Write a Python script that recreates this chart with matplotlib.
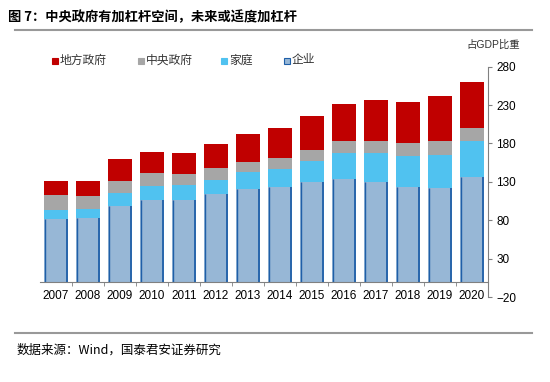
import numpy as np
import matplotlib.pyplot as plt
from matplotlib.patches import Rectangle

plt.rcParams['font.family'] = ['Liberation Sans', 'Noto Sans CJK SC', 'DejaVu Sans']

# 数据（占GDP比重，%）
years = ['2007', '2008', '2009', '2010', '2011', '2012', '2013',
         '2014', '2015', '2016', '2017', '2018', '2019', '2020']
corp = [81.5, 83.0, 98.4, 106.3, 106.7, 114.5, 120.6,
        122.8, 129.3, 133.6, 129.3, 122.8, 121.5, 136.6]
household = [11.7, 11.5, 16.6, 18.6, 18.7, 18.2, 21.7,
             23.8, 27.7, 33.4, 37.7, 41.2, 43.8, 46.1]
central = [19.6, 17.5, 16.4, 16.5, 14.6, 15.3, 13.4,
           14.7, 14.7, 15.7, 15.7, 16.0, 17.4, 16.9]
local = [18.2, 19.0, 28.2, 27.2, 27.4, 31.0, 36.3,
         38.7, 44.3, 48.5, 53.3, 53.9, 59.0, 60.4]
yticks = [-20, 30, 80, 130, 180, 230, 280]

c_local = '#C00000'
c_central = '#A6A6A6'
c_house = '#50C2F0'
c_corp = '#97B7D6'
c_edge = '#1F5FA8'

fig = plt.figure(figsize=(5.5, 3.82), dpi=100)
ax = fig.add_axes([40 / 550, 1 - 297 / 382, 448 / 550, (297 - 66.7) / 382])

x = np.arange(len(years))
w = 0.72
corp = np.array(corp)
household = np.array(household)
central = np.array(central)
local = np.array(local)

ax.bar(x, corp, w, color=c_corp, linewidth=0, zorder=2)
# 企业柱左右两侧深蓝描边
ax.vlines(x - w / 2 + 0.02, 0, corp, color=c_edge, lw=1.0, zorder=3)
ax.vlines(x + w / 2 - 0.02, 0, corp, color=c_edge, lw=1.3, zorder=3)
ax.bar(x, household, w, bottom=corp, color=c_house, linewidth=0, zorder=2)
ax.bar(x, central, w, bottom=corp + household, color=c_central, linewidth=0, zorder=2)
ax.bar(x, local, w, bottom=corp + household + central, color=c_local, linewidth=0, zorder=2)

ax.set_xlim(-0.5, len(years) - 0.5)
ax.set_ylim(-20, 280)

# 坐标轴
for s in ['top', 'left']:
    ax.spines[s].set_visible(False)
ax.spines['bottom'].set_position(('data', 0))
ax.spines['bottom'].set_color('#808080')
ax.spines['bottom'].set_zorder(4)
ax.spines['right'].set_color('#808080')
ax.yaxis.tick_right()
ax.set_yticks(yticks)
ax.tick_params(axis='y', direction='out', length=3, color='#808080',
               labelsize=8.5, pad=3)
ax.set_xticks(x)
ax.set_xticklabels(years)
ax.set_xticks(np.arange(len(years) - 1) + 0.5, minor=True)
ax.tick_params(axis='x', which='major', length=0, labelsize=8.5, pad=6)
ax.tick_params(axis='x', which='minor', length=3, color='#808080', direction='out')

# 图例
labels = ['地方政府', '中央政府', '家庭', '企业']
cols = [c_local, c_central, c_house, c_corp]
lx = [52, 138, 221, 284]
for xx, lab, c in zip(lx, labels, cols):
    ec = c_edge if lab == '企业' else c
    fig.patches.append(Rectangle((xx / 550, 1 - 63.5 / 382), 6 / 550, 6 / 382,
                                 transform=fig.transFigure, facecolor=c,
                                 edgecolor=ec, linewidth=0.8))
    fig.text((xx + 8) / 550, 1 - 60 / 382, lab, fontsize=8.5, va='center',
             family=['Noto Sans CJK SC'], color='#333333')

fig.text(520 / 550, 1 - 45 / 382, '占GDP比重', fontsize=7.5, ha='right',
         va='center', color='#333333')

# 标题与来源
fig.text(8 / 550, 1 - 17 / 382, '图 7：中央政府有加杠杆空间，未来或适度加杠杆',
         fontsize=9.5, fontweight='bold', va='center',
         family=['Noto Sans CJK SC'])
fig.add_artist(plt.Line2D([15 / 550, 532 / 550], [1 - 30 / 382, 1 - 30 / 382],
                          transform=fig.transFigure, color='#999999', lw=1.5))
fig.add_artist(plt.Line2D([15 / 550, 532 / 550], [1 - 333 / 382, 1 - 333 / 382],
                          transform=fig.transFigure, color='#999999', lw=1.5))
fig.text(17 / 550, 1 - 350 / 382, '数据来源：Wind，国泰君安证券研究',
         fontsize=9, va='center', family=['Noto Sans CJK SC'])

fig.savefig('out.png', dpi=100)
